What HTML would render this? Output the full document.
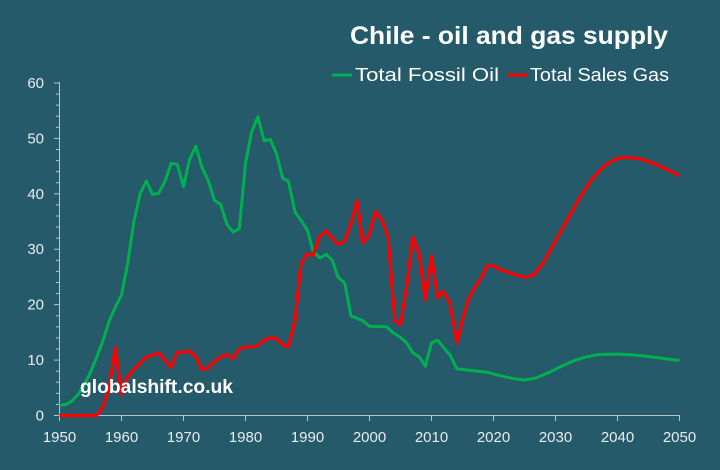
<!DOCTYPE html>
<html><head><meta charset="utf-8"><style>
html,body{margin:0;padding:0;background:#245a69;}
svg{display:block;font-family:"Liberation Sans",sans-serif;}
</style></head><body>
<svg id="s" width="720" height="470" viewBox="0 0 720 470">
<rect width="720" height="470" fill="#245a69"/>
<text x="350" y="44" fill="#fff" font-size="25" font-weight="bold" textLength="318" lengthAdjust="spacingAndGlyphs">Chile - oil and gas supply</text>
<line x1="332" y1="75" x2="352" y2="75" stroke="#00b050" stroke-width="3"/>
<text x="355" y="81" fill="#fff" font-size="18" textLength="144" lengthAdjust="spacingAndGlyphs">Total Fossil Oil</text>
<line x1="507" y1="75" x2="527" y2="75" stroke="#ff0000" stroke-width="3"/>
<text x="530" y="81" fill="#fff" font-size="18" textLength="139" lengthAdjust="spacingAndGlyphs">Total Sales Gas</text>
<g id="ax" stroke="#b8c4c8" stroke-width="1"></g>
<g id="lbl" fill="#e8ecee" font-size="15"></g>
<polyline id="g" fill="none" stroke="#00b050" stroke-width="3" stroke-linejoin="round"/>
<polyline id="r" fill="none" stroke="#ff0000" stroke-width="3.2" stroke-linejoin="round"/>
<text x="80" y="393" fill="#fff" font-size="19.5" font-weight="bold" textLength="153" lengthAdjust="spacingAndGlyphs">globalshift.co.uk</text>
</svg>
<script>
var X=function(y){return 59.5+(y-1950)*6.2},Y=function(v){return 415.5-v*5.542};
var ns="http://www.w3.org/2000/svg",ax=document.getElementById('ax'),lb=document.getElementById('lbl');
function L(a,b,c,d){var l=document.createElementNS(ns,'line');l.setAttribute('x1',a);l.setAttribute('y1',b);l.setAttribute('x2',c);l.setAttribute('y2',d);ax.appendChild(l);}
function T(x,y,t,a){var e=document.createElementNS(ns,'text');e.setAttribute('x',x);e.setAttribute('y',y);e.setAttribute('text-anchor',a);e.textContent=t;lb.appendChild(e);}
L(59.5,82,59.5,415.5);L(54,415.5,680,415.5);
for(var v=0;v<=60;v+=2){var y=Y(v);if(v%10==0){L(54,y,59.5,y);T(44,y+5,v,'end');}else L(56,y,59.5,y);}
for(var yr=1950;yr<=2050;yr+=10){var x=X(yr);L(x,415.5,x,421);T(x,442,yr,'middle');}
function P(id,d){var s=[];for(var i=0;i<d.length;i+=2)s.push(X(d[i]).toFixed(1)+','+Y(d[i+1]).toFixed(1));document.getElementById(id).setAttribute('points',s.join(' '));}
P('g',[1950,1.8,1951,2,1952,2.6,1953,3.8,1954,5.5,1955,7.8,1956,10.5,1957,13.5,1958,17,1959,19.5,1960,21.8,1961,27.5,1962,35,1963,40,1964,42.3,1965,39.9,1966,40.1,1967,42.2,1968,45.5,1969,45.3,1970,41.3,1971,46.3,1972,48.6,1973,44.7,1974,42.4,1975,38.8,1976,38.1,1977,34.5,1978,33.1,1979,33.7,1980,45.5,1981,51.2,1982,53.9,1983,49.6,1984,49.8,1985,47.2,1986,42.8,1986.9,42.3,1988,36.7,1989.1,35,1990,33.4,1990.9,29.6,1992,28.4,1993,29.1,1994,28,1994.9,25,1996,23.9,1997,18,1998.9,17.1,2000,16.1,2002.8,16,2003.8,14.9,2005,14.1,2006,13.1,2007,11.3,2008,10.6,2009,8.9,2010,13.1,2011,13.6,2011.9,12.3,2013,10.9,2014.1,8.4,2019,7.8,2021,7.2,2023,6.7,2025,6.4,2027,6.8,2029,7.8,2031,8.9,2033,9.9,2035,10.6,2037,11,2040,11.1,2043,10.9,2046,10.5,2050,9.9]);
P('r',[1950,0,1956,0,1957,1.5,1958,5,1959,12.2,1960,3.8,1961,7,1962,8.3,1963,9.5,1964,10.5,1965,10.9,1966,11.3,1967,10,1968,8.7,1969,11.4,1970,11.4,1971,11.6,1972,10.6,1973,8.3,1974,8.6,1975,9.7,1976,10.6,1977,11,1978,10.3,1979,12,1980,12.4,1981,12.3,1982,12.6,1983,13.6,1984,14,1985,13.9,1986,12.8,1986.9,12.4,1988,17.2,1988.9,27.1,1989.8,29.1,1990.9,28.9,1991.9,32.2,1993,33.3,1994.9,30.9,1996,31.4,1997,34.6,1998,38.8,1998.9,31.1,1999.9,32.4,2001,36.8,2002.1,35,2003,32.2,2004.1,17,2005,16.4,2006,23.3,2007,32.2,2008,29.2,2009,20.9,2010,28.7,2011,21.3,2011.9,22.4,2013,20.2,2014.1,13.1,2015.1,17.7,2016,21.1,2017,23.1,2018.1,25,2019,27.1,2020.1,26.9,2021,26.4,2023,25.6,2025,24.9,2026.5,25.4,2028,27.5,2030,31.5,2032,35.5,2034,39.5,2036,42.8,2038,45.2,2040,46.4,2042,46.6,2044,46.2,2046,45.4,2048,44.4,2050,43.3]);
</script>
</body></html>
